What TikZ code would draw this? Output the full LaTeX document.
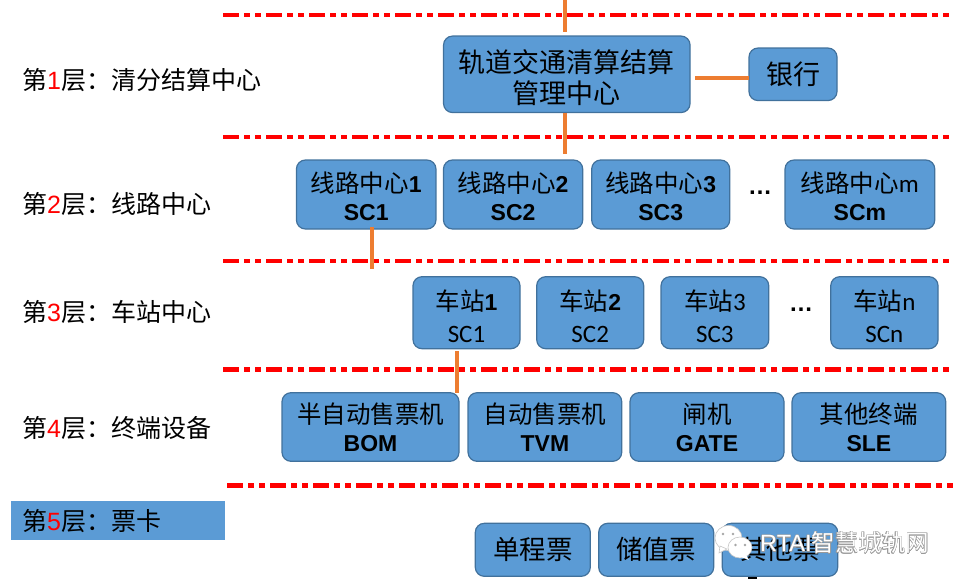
\documentclass[tikz,border=0pt]{standalone}
\usepackage{xcolor}
\usepackage{fontspec}
\usepackage[copies]{contour}
\contournumber{8}
\contourlength{0.5pt}
\setmainfont{Noto Sans CJK SC}
\newfontfamily\arial{Liberation Sans}
\newfontfamily\carlito{Carlito}
\usetikzlibrary{positioning, calc}
\definecolor{boxblue}{HTML}{5B9BD5}
\definecolor{boxedge}{HTML}{41719C}
\definecolor{linkorange}{HTML}{ED7D31}
\newcommand{\latinbold}{\fontsize{23}{30}\selectfont\arial\bfseries}
\newcommand{\latinthin}{\fontsize{25}{30}\selectfont\carlito}
\newcommand{\headroom}[1]{\rule{0pt}{#1pt}}
\tikzstyle{box} = [draw=boxedge, fill=boxblue, line width=1.2pt, rounded corners=9pt, inner sep=0pt, align=center, font=\fontsize{24.5}{28}\selectfont, text=black]
\tikzstyle{hubbox} = [box, font=\fontsize{27}{31}\selectfont]
\tikzstyle{stationbox} = [box, minimum height=72, font=\fontsize{24.5}{32}\selectfont]
\tikzstyle{ticketbox} = [box, minimum height=53, font=\fontsize{26.5}{30}\selectfont]
\tikzstyle{layertext} = [anchor=west, inner sep=0pt, font=\fontsize{25}{30}\selectfont]
\tikzstyle{tier} = [red, line width=4.5pt, dash pattern=on 16pt off 5.3pt on 6pt off 5pt on 5.5pt off 5.2pt]
\tikzstyle{link} = [linkorange, line width=4pt]
\tikzstyle{more} = [inner sep=0pt, font=\fontsize{24}{30}\selectfont\arial\bfseries]
\tikzstyle{bubble} = [fill=white, draw=gray!45, line width=0.6pt]
\begin{document}
\begin{tikzpicture}[x=1pt, y=-1pt]
    \useasboundingbox (0, 0) rectangle (967, 587);

    % Tier lines
    \draw[tier] (223, 15) -- (950, 15);
    \draw[tier] (223, 137) -- (950, 137);
    \draw[tier] (223, 261) -- (950, 261);
    \draw[tier] (223, 369.3) -- (950, 369.3);
    \draw[tier] (227, 485.7) -- (954, 485.7);

    % Layer names
    \fill[boxblue] (11, 501) rectangle (225.3, 539.7);
    \node[layertext] (layera) at (22, 80) {第{\color{red}\arial 1}层：清分结算中心};
    \node[layertext] (layerb) at (22, 204) {第{\color{red}\arial 2}层：线路中心};
    \node[layertext] (layerc) at (22, 312) {第{\color{red}\arial 3}层：车站中心};
    \node[layertext] (layerd) at (22, 428) {第{\color{red}\arial 4}层：终端设备};
    \node[layertext] (layere) at (22, 521) {第{\color{red}\arial 5}层：票卡};

    % Centre and bank
    \node[hubbox, minimum width=246.5, minimum height=76.5] (hub) at (566.8, 74.3) {\headroom{30}轨道交通清算结算\\管理中心};
    \node[hubbox, minimum width=88, minimum height=52.5] (bank) at (793, 74.3) {银行};

    % Line centres
    \node[box, minimum width=139.5, minimum height=69] (linea) at (366.2, 194.5) {\headroom{24}线路中心{\latinbold 1}\\{\latinbold SC1}};
    \node[box, minimum width=139.2, minimum height=69] (lineb) at (513.1, 194.5) {\headroom{24}线路中心{\latinbold 2}\\{\latinbold SC2}};
    \node[box, minimum width=138, minimum height=69] (linec) at (660.7, 194.5) {\headroom{24}线路中心{\latinbold 3}\\{\latinbold SC3}};
    \node[more] (linedots) at (760, 193) {…};
    \node[box, minimum width=149.7, minimum height=69] (linem) at (859.9, 194.5) {\headroom{24}线路中心{\latinthin m}\\{\latinbold SCm}};

    % Stations
    \node[stationbox, minimum width=107] (stationa) at (466.5, 312.7) {\headroom{28}车站{\latinbold 1}\\{\latinthin SC1}};
    \node[stationbox, minimum width=107] (stationb) at (590.2, 312.7) {\headroom{28}车站{\latinbold 2}\\{\latinthin SC2}};
    \node[stationbox, minimum width=107.7] (stationc) at (714.9, 312.7) {\headroom{28}车站{\latinthin 3}\\{\latinthin SC3}};
    \node[more] (stationdots) at (801, 310) {…};
    \node[stationbox, minimum width=107.3] (stationn) at (884.4, 312.7) {\headroom{28}车站{\latinthin n}\\{\latinthin SCn}};

    % Terminals
    \node[box, minimum width=177, minimum height=68.6] (bom) at (370.5, 427) {半自动售票机\\{\latinbold BOM}};
    \node[box, minimum width=153.7, minimum height=68.6] (tvm) at (544.9, 427) {自动售票机\\{\latinbold TVM}};
    \node[box, minimum width=154, minimum height=68.6] (gate) at (707, 427) {闸机\\{\latinbold GATE}};
    \node[box, minimum width=153.7, minimum height=68.6] (sle) at (868.9, 427) {其他终端\\{\latinbold SLE}};

    % Tickets
    \fill[black] (748, 576) rectangle (757, 578.5);
    \node[ticketbox, minimum width=115] (single) at (532.8, 549.8) {单程票};
    \node[ticketbox, minimum width=115] (stored) at (656.2, 549.8) {储值票};
    \node[ticketbox, minimum width=115.4] (other) at (780, 549.8) {其他票};

    % Connectors
    \coordinate (feedin) at (565, 0);
    \coordinate (hubfoot) at (565, 153);
    \coordinate (banktap) at (749, 78);
    \coordinate (linefoot) at (371.7, 268.7);
    \coordinate (stationtap) at (456.7, 392.7);
    \draw[link, shorten >=3pt] (feedin) -- (feedin |- hub.north);
    \draw[link, shorten >=-1pt] (hubfoot |- hub.south) -- (hubfoot);
    \draw[link, shorten <=4.7pt] (banktap -| hub.east) -- (banktap);
    \draw[link, shorten <=-3pt] (linefoot |- linea.south) -- (linefoot);
    \draw[link, shorten <=1.5pt] (stationtap |- stationa.south) -- (stationtap);

    % Watermark
    \draw[bubble] (728.5, 538) ellipse (13.5 and 12.5);
    \fill[bubble] (720, 546) -- (719, 553) -- (727, 549) -- cycle;
    \fill[gray!70] (723, 534) circle (1.4);
    \fill[gray!70] (733, 534) circle (1.4);
    \draw[bubble] (740, 547.5) ellipse (12 and 10.5);
    \fill[white] (746, 555) -- (749, 560) -- (741, 557) -- cycle;
    \fill[gray!70] (735.5, 545) circle (1.4);
    \fill[gray!70] (745, 545) circle (1.4);
    \node[inner sep=0pt, text=white, anchor=west, font=\fontsize{23.5}{28}\selectfont] (mark) at (760, 543) {\contour{gray!80}{{\arial RTAI}智慧城轨网}};
\end{tikzpicture}
\end{document}
